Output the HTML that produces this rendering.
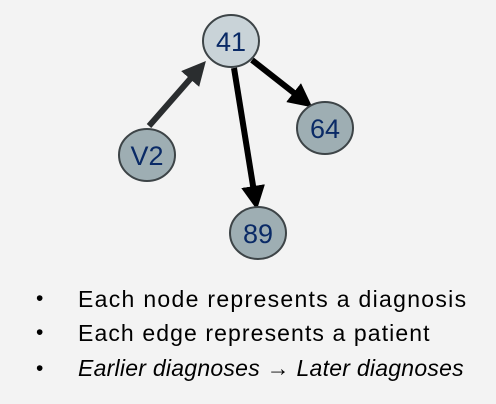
<!DOCTYPE html>
<html><head><style>
body{margin:0;background:#f3f3f3;width:496px;height:404px;overflow:hidden;font-family:"Liberation Sans",sans-serif}
.t{position:absolute;left:78px;font-size:23px;letter-spacing:0.6px;color:#000;white-space:nowrap}
.b{position:absolute;left:36px;font-size:21px}
</style></head><body>
<svg width="496" height="270" style="position:absolute;left:0;top:0">
<defs>
<marker id="a" markerWidth="4" markerHeight="4" refX="2" refY="2" orient="auto" markerUnits="strokeWidth"><path d="M0,0 L4,2 L0,4 z" fill="#000"/></marker>
<marker id="g" markerWidth="4" markerHeight="4" refX="2" refY="2" orient="auto" markerUnits="strokeWidth"><path d="M0,0 L4,2 L0,4 z" fill="#2a2d2f"/></marker>
</defs>
<line x1="149" y1="126" x2="198" y2="70" stroke="#2a2d2f" stroke-width="6" marker-end="url(#g)"/>
<line x1="252" y1="60" x2="303" y2="100" stroke="#000" stroke-width="6" marker-end="url(#a)"/>
<line x1="234" y1="68" x2="255" y2="198" stroke="#000" stroke-width="6" marker-end="url(#a)"/>
<g stroke="#3d4447" stroke-width="2" font-family="Liberation Sans,sans-serif" font-size="27" text-anchor="middle">
<ellipse cx="231" cy="41" rx="28" ry="26" fill="#c9d3d8"/>
<ellipse cx="147" cy="155" rx="28" ry="26" fill="#9eaeb3"/>
<ellipse cx="325" cy="128" rx="28" ry="26" fill="#9eaeb3"/>
<ellipse cx="258" cy="233" rx="28" ry="26" fill="#9eaeb3"/>
<text x="231" y="51" stroke="none" fill="#0a2a66">41</text>
<text x="147" y="165" stroke="none" fill="#0a2a66">V2</text>
<text x="325" y="138" stroke="none" fill="#0a2a66">64</text>
<text x="258" y="243" stroke="none" fill="#0a2a66">89</text>
</g>
</svg>
<div class="b" style="top:287px">•</div><div class="t" style="top:286px;letter-spacing:1.3px">Each node represents a diagnosis</div>
<div class="b" style="top:321px">•</div><div class="t" style="top:320px;letter-spacing:1.1px">Each edge represents a patient</div>
<div class="b" style="top:357px">•</div><div class="t" style="top:355px;font-style:italic;letter-spacing:0.25px">Earlier diagnoses <b style="font-style:normal">→</b> Later diagnoses</div>
</body></html>
